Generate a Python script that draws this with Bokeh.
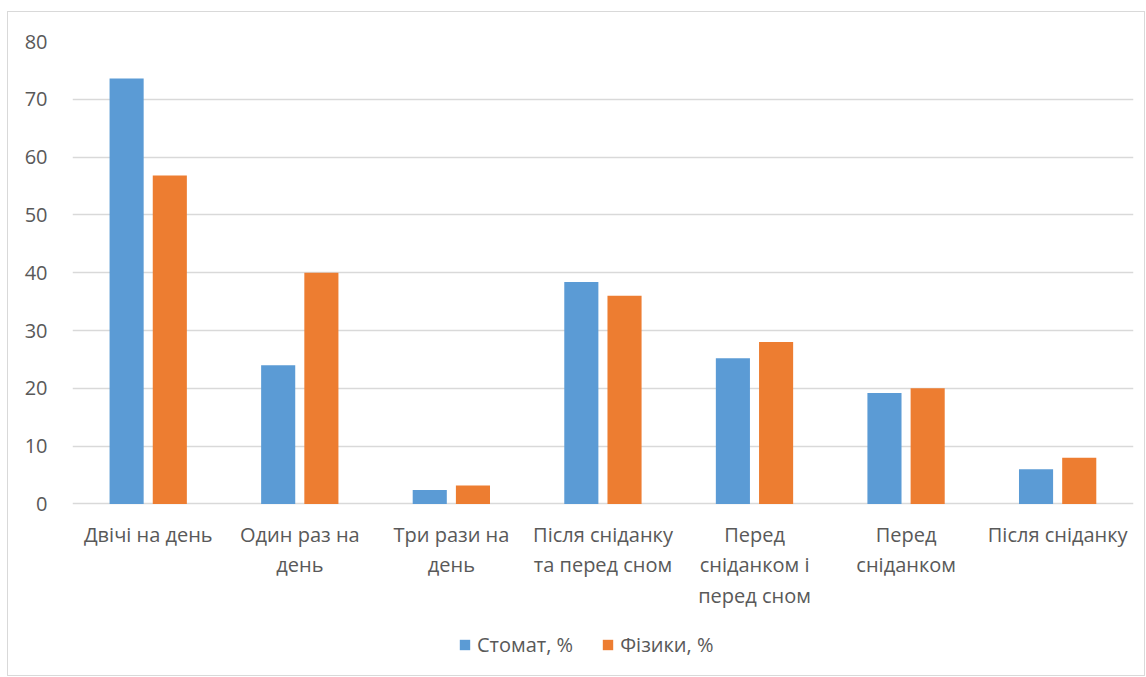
from bokeh.plotting import figure
from bokeh.models import ColumnDataSource, FactorRange, Range1d, Legend, LegendItem, FixedTicker
from bokeh.transform import dodge
from bokeh.core.properties import value
from bokeh.embed import file_html
from bokeh.resources import INLINE

categories = ["Двічі на день", "Один раз на день", "Три рази на день",
              "Після сніданку та перед сном", "Перед сніданком і перед сном",
              "Перед сніданком", "Після сніданку"]
tick_labels = ["Двічі на день", "Один раз на\nдень", "Три рази на\nдень",
               "Після сніданку\nта перед сном", "Перед\nсніданком і\nперед сном",
               "Перед\nсніданком", "Після сніданку"]
stomat = [73.6, 24.0, 2.4, 38.4, 25.2, 19.2, 6.0]
fizyky = [56.8, 40.0, 3.2, 36.0, 28.0, 20.0, 8.0]
series_names = ["Стомат, %", "Фізики, %"]
y_ticks = [0, 10, 20, 30, 40, 50, 60, 70, 80]

BLUE = "#5B9BD5"
ORANGE = "#ED7D31"
GRID = "#D9D9D9"
TEXT = "#595959"
FONT = "Open Sans"
FS = "20px"

# layout (pixels)
W, H = 1138, 665
B_LEFT, B_TOP, B_RIGHT, B_BOTTOM = 64, 29, 13, 4
VALUE_PX = 461  # pixel height of 0..80
frame_h = (H - 2) - B_TOP - B_BOTTOM
y_top = 80
y_bottom = -(frame_h - VALUE_PX) * y_top / VALUE_PX

src = ColumnDataSource(dict(cat=categories, s=stomat, f=fizyky,
                            lab=tick_labels, zero=[0] * len(categories)))

p = figure(x_range=FactorRange(*categories), y_range=Range1d(y_bottom, y_top),
           width=W, height=H, output_backend="svg", toolbar_location=None,
           x_axis_location=None,
           min_border_top=B_TOP, min_border_left=B_LEFT,
           min_border_right=B_RIGHT, min_border_bottom=B_BOTTOM)
p.styles = {"border": "1px solid #D9D9D9", "margin-left": "7px", "margin-top": "11px"}
p.outline_line_color = None
p.background_fill_color = "white"
p.border_fill_color = "white"

r1 = p.vbar(x=dodge("cat", -0.143, range=p.x_range), top="s", width=0.225, source=src,
            fill_color=BLUE, line_color=None)
r2 = p.vbar(x=dodge("cat", 0.142, range=p.x_range), top="f", width=0.225, source=src,
            fill_color=ORANGE, line_color=None)

p.text(x="cat", y="zero", text="lab", source=src, y_offset=17,
       text_align="center", text_baseline="top", text_line_height=1.125,
       text_font=value(FONT), text_font_size=FS, text_color=TEXT)

p.yaxis.ticker = FixedTicker(ticks=y_ticks)
p.yaxis.axis_line_color = None
p.yaxis.major_tick_line_color = None
p.yaxis.minor_tick_line_color = None
p.yaxis.major_label_standoff = 19
p.yaxis.major_label_text_color = TEXT
p.yaxis.major_label_text_font = FONT
p.yaxis.major_label_text_font_size = FS

p.xgrid.grid_line_color = None
p.ygrid.grid_line_color = GRID
p.ygrid.grid_line_width = 1.5

legend = Legend(items=[LegendItem(label=series_names[0], renderers=[r1]),
                       LegendItem(label=series_names[1], renderers=[r2])],
                orientation="horizontal", location=(386, 15),
                padding=0, margin=0, spacing=28, label_standoff=6,
                glyph_width=13, glyph_height=13, label_height=20,
                label_text_font=FONT, label_text_font_size=FS, label_text_color=TEXT,
                border_line_color=None, background_fill_alpha=0)
p.add_layout(legend, "center")

open("out.html", "w").write(file_html(p, INLINE))
